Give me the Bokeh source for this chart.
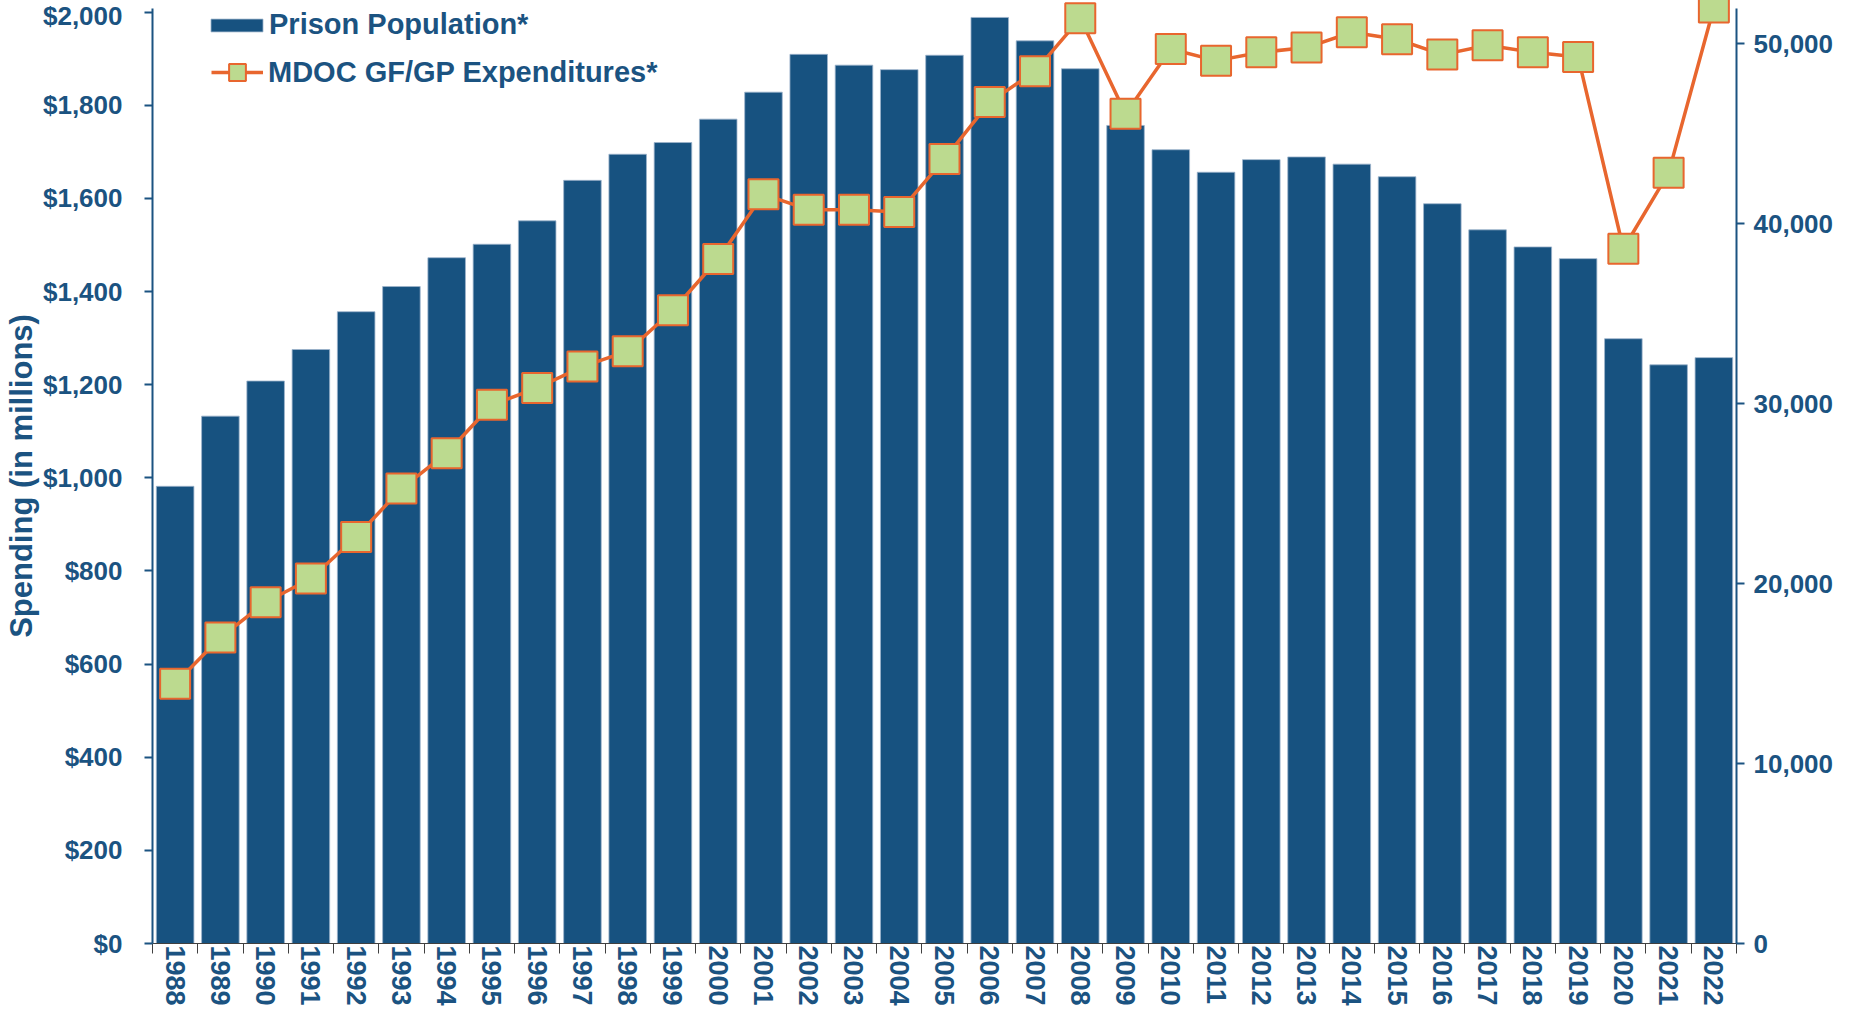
from bokeh.plotting import figure
from bokeh.models import (Range1d, LinearAxis, FixedTicker,
                          NumeralTickFormatter, Legend, LegendItem, ColumnDataSource)
from bokeh.embed import file_html
from bokeh.resources import INLINE

# ---- data ----
years = list(range(1988, 2023))
prison_population = [25400, 29300, 31250, 33000, 35100, 36500, 38100, 38850, 40150, 42400,
                     43850, 44500, 45800, 47300, 49400, 48800, 48550, 49350, 51450, 50150,
                     48600, 45450, 44100, 42850, 43550, 43700, 43300, 42600, 41100, 39650,
                     38700, 38050, 33600, 32150, 32550]
expenditures = [558, 657, 733, 784, 873, 977, 1053, 1157, 1193, 1239,
                1272, 1360, 1470, 1609, 1576, 1576, 1571, 1685, 1807, 1873,
                1987, 1782, 1921, 1896, 1914, 1924, 1957, 1942, 1909, 1929,
                1914, 1904, 1492, 1655, 2010]
left_ticks = list(range(0, 2001, 200))
right_ticks = list(range(0, 50001, 10000))

TEXT = "#1B5381"
BAR = "#175280"
BAR_EDGE = "#9DB4CB"
ORANGE = "#E8662E"
GREEN = "#BCDA8F"
FONT = "Liberation Sans"

left_top = 2008
right_top = 51947

src = ColumnDataSource(dict(year=years, pop=prison_population, spend=expenditures))

p = figure(width=1836, height=1008, output_backend="svg", toolbar_location=None,
           x_range=Range1d(1987.5, 2022.5), y_range=Range1d(0, left_top),
           min_border_left=147, min_border_right=100, min_border_top=8, min_border_bottom=60,
           y_axis_label="Spending (in millions)")
p.extra_y_ranges = {"pop": Range1d(0, right_top)}
p.outline_line_color = None
p.xgrid.grid_line_color = None
p.ygrid.grid_line_color = None
p.background_fill_color = "white"

bars = p.vbar(x="year", top="pop", width=0.83, y_range_name="pop", source=src,
              fill_color=BAR, line_color=BAR_EDGE, line_width=0.8)
line_r = p.line(x="year", y="spend", source=src, line_color=ORANGE, line_width=3.5)
pts = p.scatter(x="year", y="spend", source=src, marker="square", size=30,
                fill_color=GREEN, line_color=ORANGE, line_width=2)
line_r.level = "overlay"
pts.level = "overlay"


def style_y(ax):
    ax.axis_line_color = TEXT
    ax.axis_line_width = 2
    ax.major_tick_line_color = TEXT
    ax.major_tick_line_width = 2
    ax.major_tick_out = 8
    ax.major_tick_in = 0
    ax.minor_tick_line_color = None
    ax.major_label_text_font = FONT
    ax.major_label_text_font_style = "bold"
    ax.major_label_text_font_size = "26px"
    ax.major_label_text_color = TEXT


# left axis (spending)
ly = p.yaxis[0]
ly.ticker = FixedTicker(ticks=left_ticks)
ly.formatter = NumeralTickFormatter(format="$0,0")
style_y(ly)
ly.major_label_standoff = 22
ly.axis_label_text_font = FONT
ly.axis_label_text_font_style = "bold"
ly.axis_label_text_font_size = "31px"
ly.axis_label_text_color = TEXT
ly.axis_label_standoff = 1

# right axis (population)
ry = LinearAxis(y_range_name="pop", ticker=FixedTicker(ticks=right_ticks),
                formatter=NumeralTickFormatter(format="0,0"))
style_y(ry)
ry.major_label_standoff = 9
ry.axis_label = None
ry.axis_label_standoff = 0
p.add_layout(ry, "right")

# bottom axis: labels at bar centres, tick marks between bars
bx = p.xaxis[0]
bx.axis_label = None
bx.axis_label_standoff = 0
bx.ticker = FixedTicker(ticks=years, minor_ticks=[y - 0.5 for y in years] + [years[-1] + 0.5])
bx.major_tick_out = 0
bx.major_tick_in = 0
bx.major_tick_line_color = None
bx.minor_tick_out = 10
bx.minor_tick_in = 0
bx.minor_tick_line_color = "#404040"
bx.minor_tick_line_width = 1
bx.axis_line_color = "#404040"
bx.axis_line_width = 1
bx.major_label_orientation = "vertical"
bx.major_label_standoff = -8
bx.major_label_text_font = FONT
bx.major_label_text_font_style = "bold"
bx.major_label_text_font_size = "27px"
bx.major_label_text_color = TEXT


def style_leg(leg):
    leg.background_fill_alpha = 0
    leg.border_line_color = None
    leg.padding = 0
    leg.margin = 0
    leg.spacing = 0
    leg.label_text_font = FONT
    leg.label_text_font_style = "bold"
    leg.label_text_font_size = "29px"
    leg.label_text_color = TEXT
    leg.label_height = 33


frame_bottom = 943  # page y of the plot frame's bottom edge
leg1 = Legend(items=[LegendItem(label="Prison Population*", renderers=[bars])],
              location=(52, frame_bottom - 41), glyph_width=65, glyph_height=16, label_standoff=0)
style_leg(leg1)
leg2 = Legend(items=[LegendItem(label="MDOC GF/GP Expenditures*", renderers=[line_r, pts])],
              location=(59, frame_bottom - 93), glyph_width=52, glyph_height=42, label_standoff=5)
style_leg(leg2)
p.add_layout(leg1, "center")
p.add_layout(leg2, "center")

open("out.html", "w").write(file_html(p, INLINE))
